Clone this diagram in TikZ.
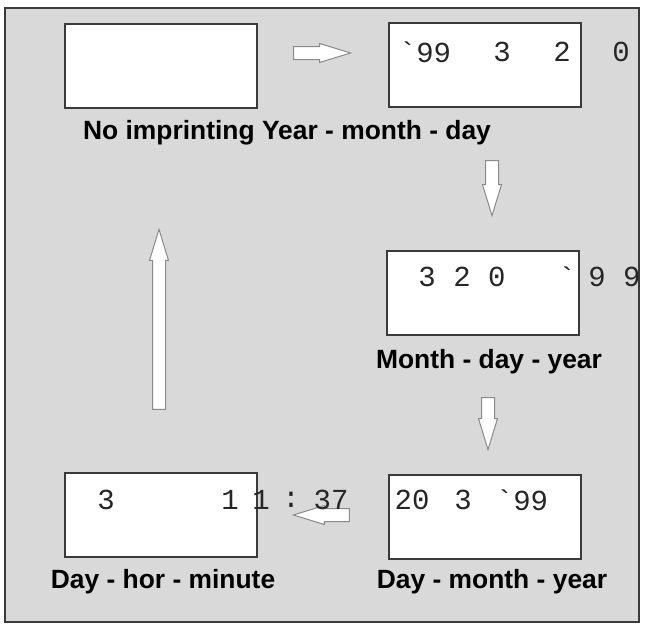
\documentclass[tikz,border=0pt]{standalone}
\usepackage{fontspec}
\setmainfont{Liberation Sans}
\newfontfamily\monof{Liberation Mono}
\usetikzlibrary{shapes.arrows}
\definecolor{bg}{HTML}{D9D9D9}
\definecolor{frame}{HTML}{3A3A3A}
\definecolor{arrline}{HTML}{8A8A8A}
\tikzset{
  panel/.style={draw=frame, line width=1.5pt, fill=bg},
  box/.style={draw=frame, line width=2pt, fill=white, minimum width=192pt, minimum height=84pt, inner sep=0pt},
  lbl/.style={font=\fontsize{26.4}{29}\selectfont\bfseries, inner sep=0pt, text=black},
  mono/.style={font=\monof\fontsize{29}{32}\selectfont, inner sep=0pt, text=black!85},
  blockarr/.style={single arrow, draw=arrline, line width=1pt, fill=white,
    inner sep=6pt, single arrow head extend=3pt, single arrow tip angle=34,
    shape border uses incircle=false},
}
\begin{document}
\begin{tikzpicture}[x=1pt,y=-1pt]
\useasboundingbox (0,0) rectangle (645,629);
\draw[panel] (5,8) rectangle (639,622);
% boxes
\node[box] (b1) at (161,66) {};
\node[box] (b2) at (485,65) {};
\node[box] (b3) at (482.5,292.5) {};
\node[box] (b4) at (484.5,516.5) {};
\node[box] (b5) at (161,514.5) {};
% labels
\node[lbl] (l1) at (287,133) {No imprinting Year - month - day};
\node[lbl] (l3) at (489,362) {Month - day - year};
\node[lbl] (l4) at (492,582) {Day - month - year};
\node[lbl] (l5) at (163,582) {Day - hor - minute};
% block arrows (node centre sits ~10pt behind the middle of the arrow)
\node[blockarr, minimum height=57pt] (a12) at (311.5,53) {};
\node[blockarr, minimum height=55pt, rotate=-90] (a23) at (492,177.5) {};
\node[blockarr, minimum height=52pt, rotate=-90] (a34) at (488,413) {};
\node[blockarr, minimum height=56pt, rotate=180] (a45) at (332,515) {};
\node[blockarr, minimum height=180pt, rotate=90] (a51) at (159,330) {};
% texts in box 2
\node[mono] (t2a) at (425,52) {`99};
\node[mono] (t2b) at (502,52) {3};
\node[mono] (t2c) at (562,52) {2};
\node[mono] (t2d) at (621,52) {0};
% texts in box 3
\node[mono] (t3a) at (462,277) {3 2 0};
\node[mono] (t3b) at (567,277) {`};
\node[mono] (t3c) at (614.5,277) {9 9};
% texts in box 4
\node[mono] (t4a) at (412,500) {20};
\node[mono] (t4b) at (463,500) {3};
\node[mono] (t4c) at (522,500) {`99};
% texts in box 5
\node[mono] (t5a) at (106,500) {3};
\node[mono] (t5b) at (230,500) {1};
\node[mono] (t5c) at (261,500) {1};
\node[mono] (t5d) at (291,500) {:};
\node[mono] (t5e) at (331,500) {37};
\end{tikzpicture}
\end{document}
